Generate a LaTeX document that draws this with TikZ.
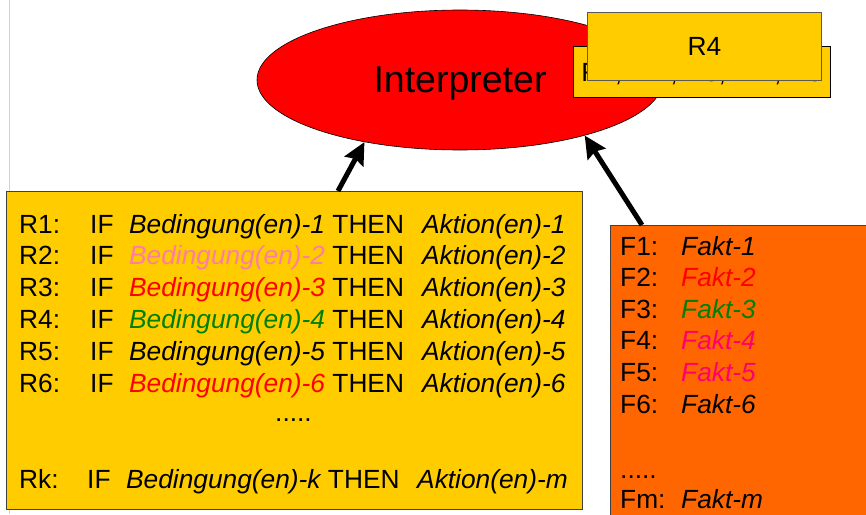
\documentclass[tikz,border=0pt]{standalone}
\usepackage{fontspec}
\setmainfont{Liberation Sans}
\usetikzlibrary{shapes.geometric, arrows.meta}
\definecolor{regelgelb}{RGB}{255,204,0}
\definecolor{faktorange}{RGB}{255,102,0}
\definecolor{rosa}{RGB}{255,125,160}
\definecolor{gruen}{RGB}{0,128,0}
\definecolor{pinkrot}{RGB}{255,0,110}
\tikzset{
    x=1pt, y=-1pt, % pixel-like units, y downwards
    txt/.style={font=\fontsize{26.3}{30}\selectfont, inner sep=0pt, anchor=base west},
    kasten/.style={draw=black!75, line width=0.8pt, anchor=north west, inner sep=0pt},
    pfeil/.style={line width=5pt, -{Stealth[length=22pt, width=21pt, inset=3pt]}},
}
\begin{document}
\begin{tikzpicture}
    \clip (0,0) rectangle (866,514);
    \fill[white] (0,0) rectangle (866,514);
    \draw[black!18, line width=1pt] (9.5,0) -- (9.5,514);

    % Interpreter
    \node[ellipse, draw=black, line width=0.6pt, fill=red, minimum width=406pt, minimum height=140pt,
          inner sep=0pt, text depth=0pt, font=\fontsize{37.5}{40}\selectfont] (interp) at (460,80) {Interpreter};

    % Konfliktmenge und Auswahl
    \node[kasten, draw=black, fill=regelgelb, minimum width=257pt, minimum height=51pt,
          font=\fontsize{26.3}{30}\selectfont, text depth=0pt] (konflikt) at (573,46) {R2, R2 , R3, R4 , R5};
    \node[kasten, draw=black!65, fill=regelgelb, minimum width=234pt, minimum height=68pt,
          font=\fontsize{26.3}{30}\selectfont, text depth=0pt] (auswahl) at (587,12) {R4};

    % Regelbasis
    \node[kasten, fill=regelgelb, minimum width=576pt, minimum height=318pt] (regeln) at (6,191) {};
    \foreach \nr/\farbe in {1/black, 2/rosa, 3/red, 4/gruen, 5/black, 6/red} {
        \node[txt] (rl\nr) at (19,{233+(\nr-1)*31.9}) {R\nr:};
        \node[txt] (ri\nr) at (90,{233+(\nr-1)*31.9}) {IF};
        \node[txt] (rb\nr) at (129,{233+(\nr-1)*31.9}) {{\itshape\color{\farbe}Bedingung(en)-\nr} THEN};
        \node[txt] (ra\nr) at (422,{233+(\nr-1)*31.9}) {\itshape Aktion(en)-\nr};
    }
    \node[txt] (rdots) at (275,421) {.....};
    \node[txt] (rlk) at (19,488) {Rk:};
    \node[txt] (rik) at (87,488) {IF};
    \node[txt] (rbk) at (126,488) {{\itshape Bedingung(en)-k} THEN};
    \node[txt] (rak) at (417,488) {\itshape Aktion(en)-m};

    % Faktenbasis
    \node[kasten, fill=faktorange, minimum width=280pt, minimum height=310pt] (fakten) at (610,225) {};
    \foreach \nr/\farbe in {1/black, 2/red, 3/gruen, 4/pinkrot, 5/pinkrot, 6/black} {
        \node[txt] (fl\nr) at (620,{255+(\nr-1)*31.6}) {F\nr:};
        \node[txt, text=\farbe] (ff\nr) at (681,{255+(\nr-1)*31.6}) {\itshape Fakt-\nr};
    }
    \node[txt] (fdots) at (620,478) {.....};
    \node[txt] (flm) at (620,508) {Fm:};
    \node[txt] (ffm) at (681,508) {\itshape Fakt-m};

    \draw[pfeil] ([xshift=332pt]regeln.north west) -- (interp.213);
    \draw[pfeil] ([xshift=32pt]fakten.north west) -- (interp.336);
\end{tikzpicture}
\end{document}
